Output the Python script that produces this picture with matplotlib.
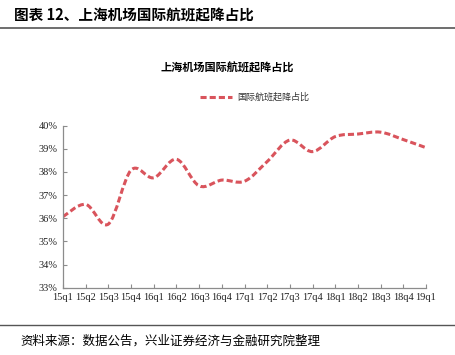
import numpy as np
import matplotlib
matplotlib.use('Agg')
import matplotlib.pyplot as plt
from matplotlib.path import Path
from matplotlib.patches import PathPatch
from matplotlib.lines import Line2D

plt.rcParams['font.family'] = ['Liberation Serif', 'Noto Sans CJK SC']

quarters = ['15q1', '15q2', '15q3', '15q4', '16q1', '16q2', '16q3', '16q4',
            '17q1', '17q2', '17q3', '17q4', '18q1', '18q2', '18q3', '18q4', '19q1']
share = [36.07, 36.6, 35.75, 38.08, 37.75, 38.55, 37.4, 37.65,
         37.6, 38.45, 39.38, 38.88, 39.53, 39.64, 39.72, 39.4, 39.05]
yticks = [33, 34, 35, 36, 37, 38, 39, 40]

red = '#d9545c'

fig = plt.figure(figsize=(4.55, 3.55), dpi=100)
ax = fig.add_axes([63/455, 1-287.7/355, (426-63)/455, (287.7-125.7)/355])

# smooth curve (catmull-rom -> cubic bezier) through the data points
x = np.arange(len(share), dtype=float)
y = np.array(share)
verts = [(x[0], y[0])]
codes = [Path.MOVETO]
for i in range(len(x)-1):
    p0 = (x[max(i-1, 0)], y[max(i-1, 0)])
    p1 = (x[i], y[i])
    p2 = (x[i+1], y[i+1])
    p3 = (x[min(i+2, len(x)-1)], y[min(i+2, len(x)-1)])
    c1 = (p1[0] + (p2[0]-p0[0])/6, p1[1] + (p2[1]-p0[1])/6)
    c2 = (p2[0] - (p3[0]-p1[0])/6, p2[1] - (p3[1]-p1[1])/6)
    verts += [c1, c2, p2]
    codes += [Path.CURVE4]*3
patch = PathPatch(Path(verts, codes), fill=False, edgecolor=red, lw=2.2,
                  linestyle=(0, (2.0, 1.0)), capstyle='butt')
ax.add_patch(patch)

ax.set_xlim(0, len(quarters)-1)
ax.set_ylim(33, 40)
ax.set_xticks(x)
ax.set_xticklabels(quarters, fontsize=7.5)
ax.set_yticks(yticks)
ax.set_yticklabels(['%d%%' % v for v in yticks], fontsize=7.5)
for s in ['top', 'right']:
    ax.spines[s].set_visible(False)
for s in ['left', 'bottom']:
    ax.spines[s].set_color('#8c8c8c')
    ax.spines[s].set_linewidth(0.9)
ax.tick_params(direction='in', length=3, color='#8c8c8c', pad=4, labelcolor='#222222')

# chart title and legend
fig.text(0.5, 1-68/355, '上海机场国际航班起降占比', ha='center', va='center',
         fontsize=8, fontweight='bold', family=['Noto Sans CJK SC'])
fig.add_artist(Line2D([200/455, 232/455], [1-97/355]*2, color=red, lw=2.2,
                      linestyle=(0, (2.0, 1.0)), transform=fig.transFigure))
fig.text(237/455, 1-97/355, '国际航班起降占比', ha='left', va='center',
         fontsize=6.5, color='#333333', family=['Noto Sans CJK SC'])

# report header / footer
fig.text(14/455, 1-15/355, '图表 12、上海机场国际航班起降占比', ha='left', va='center',
         fontsize=10.5, fontweight='bold', family=['Noto Sans CJK SC'])
fig.add_artist(Line2D([0, 1], [1-28/355]*2, color='#555555', lw=1.2,
                      transform=fig.transFigure))
fig.add_artist(Line2D([0, 1], [1-325/355]*2, color='#555555', lw=1.0,
                      transform=fig.transFigure))
fig.text(20/455, 1-341/355, '资料来源：数据公告，兴业证券经济与金融研究院整理', ha='left',
         va='center', fontsize=9, family=['Noto Sans CJK SC'])

fig.savefig('out.png', dpi=100)
